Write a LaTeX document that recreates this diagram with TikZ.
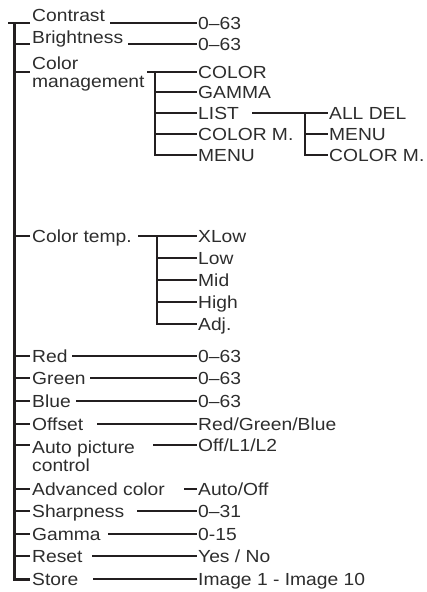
\documentclass[tikz,border=0pt]{standalone}
\usepackage{fontspec}
\setmainfont[FakeStretch=1.1]{Liberation Sans}
\definecolor{ink}{RGB}{35,31,32}
\definecolor{txt}{RGB}{45,45,45}
\begin{document}
\begin{tikzpicture}[x=1pt,y=-1pt,
  lbl/.style={anchor=base west, inner sep=0pt, text=txt, font=\fontsize{17.5}{18}\selectfont},
  lbl2/.style={anchor=north west, inner sep=0pt, align=left, text=txt, font=\fontsize{17.5}{18}\selectfont},
  wire/.style={draw=ink, line width=2.4pt},
  trunk/.style={draw=ink, line width=3pt}]
\useasboundingbox (0,0) rectangle (427,592);

% ---------- left labels ----------
\node[lbl] (lCon) at (32,21) {Contrast};
\node[lbl] (lBri) at (32,43) {Brightness};
\node[lbl2] (lCM) at (32,56.5) {Color\\management};
\node[lbl] (lCT) at (32,242.5) {Color temp.};
\node[lbl] (lRed) at (32,362.5) {Red};
\node[lbl] (lGre) at (32,384.5) {Green};
\node[lbl] (lBlu) at (32,407.5) {Blue};
\node[lbl] (lOff) at (32,430.5) {Offset};
\node[lbl2] (lAut) at (32,440.5) {Auto picture\\control};
\node[lbl] (lAdv) at (32,495.5) {Advanced color};
\node[lbl] (lSha) at (32,517.5) {Sharpness};
\node[lbl] (lGam) at (32,540.5) {Gamma};
\node[lbl] (lRes) at (32,562.5) {Reset};
\node[lbl] (lSto) at (32,585.5) {Store};

% ---------- value labels ----------
\node[lbl] (vCon) at (198,29.3) {0–63};
\node[lbl] (vBri) at (198,50.3) {0–63};
\node[lbl] (vCOL) at (198,78.3) {COLOR};
\node[lbl] (vGAM) at (198,98.3) {GAMMA};
\node[lbl] (vLIS) at (198,119.3) {LIST};
\node[lbl] (vCOM) at (198,140.3) {COLOR M.};
\node[lbl] (vMEN) at (198,161.3) {MENU};
\node[lbl] (vALL) at (329,119.3) {ALL DEL};
\node[lbl] (vMEN2) at (329,140.3) {MENU};
\node[lbl] (vCOM2) at (329,161.3) {COLOR M.};
\node[lbl] (vXL) at (198,242.3) {XLow};
\node[lbl] (vLo) at (198,264.3) {Low};
\node[lbl] (vMi) at (198,286.3) {Mid};
\node[lbl] (vHi) at (198,308.3) {High};
\node[lbl] (vAd) at (198,330.3) {Adj.};
\node[lbl] (vRed) at (198,362.3) {0–63};
\node[lbl] (vGre) at (198,384.3) {0–63};
\node[lbl] (vBlu) at (198,407.3) {0–63};
\node[lbl] (vOff) at (198,430.3) {Red/Green/Blue};
\node[lbl] (vAut) at (198,451.3) {Off/L1/L2};
\node[lbl] (vAdv) at (198,495.3) {Auto/Off};
\node[lbl] (vSha) at (198,517.3) {0–31};
\node[lbl] (vGam) at (198,540.3) {0-15};
\node[lbl] (vRes) at (198,562.3) {Yes / No};
\node[lbl] (vSto) at (198,585.3) {Image 1 - Image 10};

% ---------- connector start points ----------
\coordinate (cCon) at (110,23);
\coordinate (cBri) at (128,44);
\coordinate (cCM) at (147,72);
\coordinate (cCT) at (138,236);
\coordinate (cLIS) at (252,113);
\coordinate (cRed) at (72,356);
\coordinate (cGre) at (90,378);
\coordinate (cBlu) at (76,401);
\coordinate (cOff) at (97,424);
\coordinate (cAut) at (153,445);
\coordinate (cAdv) at (184,489);
\coordinate (cSha) at (137,511);
\coordinate (cGam) at (108,534);
\coordinate (cRes) at (92,556);
\coordinate (cSto) at (93,579);

% sub-tree joints
\coordinate (jCM) at (155,72);
\coordinate (jCT) at (157,236);
\coordinate (jLI) at (305,113);

% ---------- main trunk ----------
\coordinate (tTop) at (14,23);
\coordinate (tBot) at (14,579);
\draw[wire] (8,23) -- (30,23);
\draw[trunk] (tTop) -- (tBot) -- (30,579);
\foreach \yy in {44,72,236,356,378,401,424,445,489,511,534,556}
  \draw[wire] (14,\yy) -- (30,\yy);

% ---------- connectors ----------
\foreach \c/\v in {cCon/vCon,cBri/vBri,cCM/vCOL,cCT/vXL,cRed/vRed,cGre/vGre,cBlu/vBlu,
                   cOff/vOff,cAut/vAut,cAdv/vAdv,cSha/vSha,cGam/vGam,cRes/vRes,cSto/vSto,cLIS/vALL}
  \draw[wire] (\c) -- ([xshift=-1pt]\c -| \v.west);

% color management sub-tree
\draw[wire] (jCM) -- (jCM |- 0,155) -- ([xshift=-1pt]0,155 -| vMEN.west);
\foreach \yy/\v in {92/vGAM,113/vLIS,134/vCOM}
  \draw[wire] (155,\yy) -- ([xshift=-1pt]0,\yy -| \v.west);

% list sub-tree
\draw[wire] (jLI) -- (jLI |- 0,155) -- ([xshift=-1pt]0,155 -| vCOM2.west);
\draw[wire] (305,134) -- ([xshift=-1pt]0,134 -| vMEN2.west);

% color temp sub-tree
\draw[wire] (jCT) -- (jCT |- 0,324) -- ([xshift=-1pt]0,324 -| vAd.west);
\foreach \yy/\v in {258/vLo,280/vMi,302/vHi}
  \draw[wire] (157,\yy) -- ([xshift=-1pt]0,\yy -| \v.west);
\end{tikzpicture}
\end{document}
